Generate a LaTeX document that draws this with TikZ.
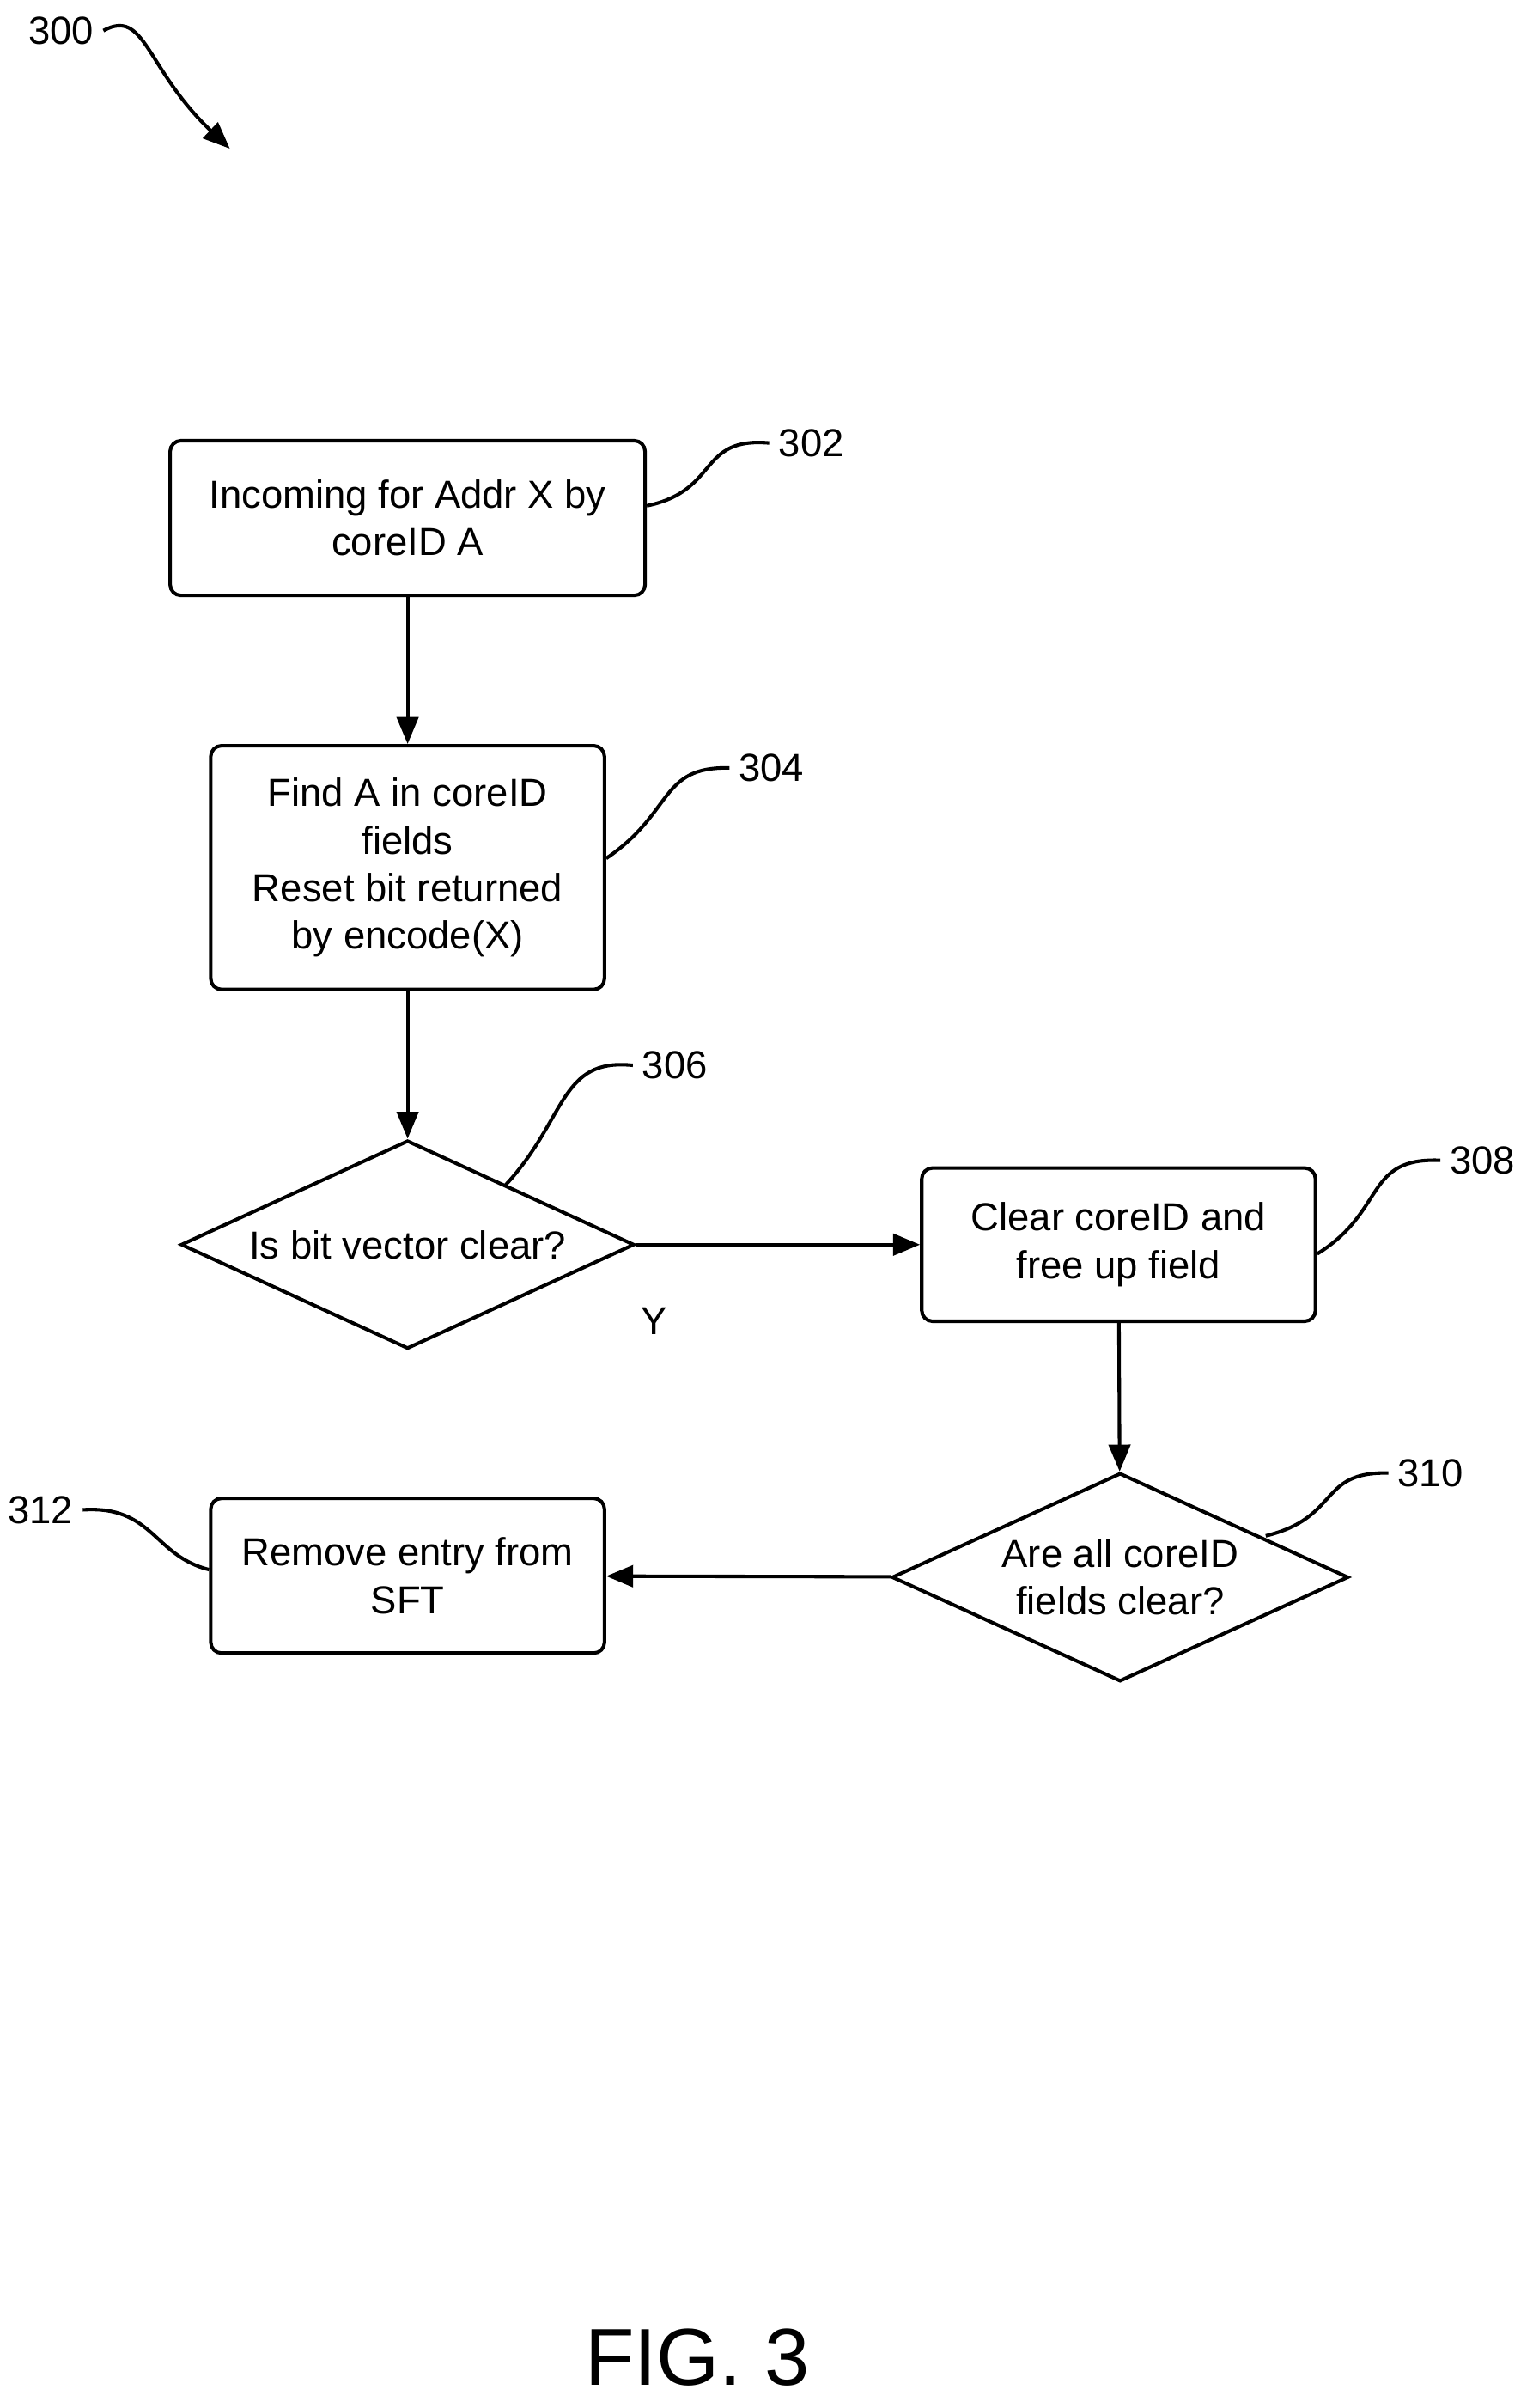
\documentclass[tikz,border=0pt]{standalone}
\usepackage{fontspec}
\setmainfont{Liberation Sans}
\usetikzlibrary{positioning}
\usetikzlibrary{arrows.meta}
\usetikzlibrary{shapes.geometric}

\tikzset{
  stepbox/.style={draw,line width=1.3pt,rounded corners=4pt,align=center,inner sep=0pt},
  test/.style={draw,line width=1.3pt,diamond,aspect=2.18,inner sep=0pt,minimum width=5.92cm,minimum height=2.72cm,align=center},
  flow/.style={line width=1.3pt,-{Triangle[length=10pt,width=8pt]}},
  lead/.style={line width=1.3pt},
  ref/.style={font=\fontsize{14.5}{17}\selectfont}
}

\begin{document}
\begin{tikzpicture}[x=0.02cm,y=-0.02cm,font=\fontsize{14.5}{17.6}\selectfont]
      \useasboundingbox (0,0) rectangle (1000,1571);
      % steps
      \node[stepbox,minimum width=6.2cm,minimum height=2.02cm] (incoming) at (266,338) {Incoming for Addr X by\\coreID A};
      \node[stepbox,minimum width=5.14cm,minimum height=3.18cm] (findA) at (266,566) {Find A in coreID\\fields\\Reset bit returned\\by encode(X)};
      \node[test] (bitclear) at (266,812) {Is bit vector clear?};
      \node[stepbox,minimum width=5.14cm,minimum height=2cm] (clearid) at (730,812) {Clear coreID and\\free up field};
      \node[test,minimum width=5.96cm] (allclear) at (731,1029) {Are all coreID\\fields clear?};
      \node[stepbox,minimum width=5.14cm,minimum height=2.02cm] (remove) at (266,1028) {Remove entry from\\SFT};

      \draw[flow] (incoming) -- (findA);
      \draw[flow] (findA.south -| bitclear.north) -- (bitclear);
      \draw[flow] (bitclear) -- (clearid);
      \draw[flow] (clearid) -- (allclear);
      \draw[flow] (allclear) -- (remove);
      \node (yes) at (427,862) {Y};

      % reference numbers
      \node[ref] (n300) at (40,20) {300};
      \coordinate (t300) at (150,97);
      \draw[flow] (n300.east) .. controls (95,5) and (95,45) .. (t300);
      \node[ref,anchor=west] (n302) at (502,289) {302};
      \draw[lead] (incoming.east |- 0,330) .. controls (470,320) and (455,285) .. (n302.west);
      \node[ref,anchor=west] (n304) at (476,501) {304};
      \draw[lead] (findA.east |- 0,560) .. controls (440,530) and (430,500) .. (n304.west);
      \node[ref,anchor=west] (n306) at (413,695) {306};
      \coordinate (a306) at (330,773);
      \draw[lead] (a306) .. controls (370,730) and (365,690) .. (n306.west);
      \node[ref,anchor=west] (n308) at (940,757) {308};
      \draw[lead] (clearid.east |- 0,818) .. controls (905,790) and (890,755) .. (n308.west);
      \node[ref,anchor=west] (n310) at (906,961) {310};
      \coordinate (a310) at (826,1002);
      \draw[lead] (a310) .. controls (875,990) and (860,960) .. (n310.west);
      \node[ref,anchor=east] (n312) at (54,985) {312};
      \draw[lead] (remove.west |- 0,1024) .. controls (100,1015) and (100,982) .. (n312.east);

      \node[font=\fontsize{30}{36}\selectfont] (fig) at (455,1538) {FIG. 3};
\end{tikzpicture}
\end{document}
